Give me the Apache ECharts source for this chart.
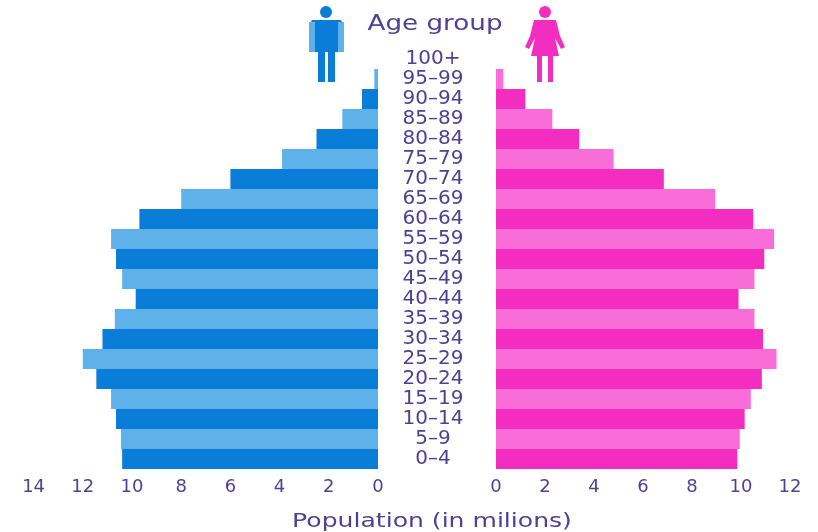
<!DOCTYPE html>
<html>
<head>
<meta charset="utf-8">
<title>Age group pyramid</title>
<style>
  html, body { margin: 0; padding: 0; background: #fff; }
  /* the source picture is a soft, upscaled image */
  #chart { width: 818px; height: 532px; filter: blur(0.6px); }
</style>
<script src="https://cdn.jsdelivr.net/npm/echarts@6/dist/echarts.min.js"></script>
</head>
<body>
<div id="chart"></div>
<script>
const ageGroups = ['0–4', '5–9', '10–14', '15–19', '20–24', '25–29', '30–34', '35–39', '40–44', '45–49',
  '50–54', '55–59', '60–64', '65–69', '70–74', '75–79', '80–84', '85–89', '90–94', '95–99', '100+'];
const maleValues = [10.4, 10.45, 10.65, 10.85, 11.45, 12.0, 11.2, 10.7, 9.85, 10.4,
  10.65, 10.85, 9.7, 8.0, 6.0, 3.9, 2.5, 1.45, 0.65, 0.15, 0];
const femaleValues = [9.85, 9.95, 10.15, 10.4, 10.85, 11.45, 10.9, 10.55, 9.9, 10.55,
  10.95, 11.35, 10.5, 8.95, 6.85, 4.8, 3.4, 2.3, 1.2, 0.3, 0];

const TEXT_COLOR = '#4f3f96';
const FONT = '"DejaVu Sans", sans-serif';
const MALE = ['#0a7dd8', '#5fb1ea'];
const FEMALE = ['#f22dc0', '#f96dd9'];

const chart = echarts.init(document.getElementById('chart'));

const xAxisBase = {
  type: 'value',
  min: 0,
  interval: 2,
  axisLine: { show: false },
  axisTick: { show: false },
  splitLine: { show: false },
  axisLabel: { color: TEXT_COLOR, fontFamily: FONT, fontSize: 18, margin: 9 }
};

const barSeries = (values, colors, idx) => ({
  type: 'bar',
  xAxisIndex: idx,
  yAxisIndex: idx,
  data: values,
  barWidth: '100%',
  silent: true,
  itemStyle: { color: p => colors[p.dataIndex % 2] }
});

chart.setOption({
  animation: false,
  grid: [
    { left: 33.6, width: 344.4, top: 49, height: 420 },
    { left: 496, width: 294, top: 49, height: 420 }
  ],
  xAxis: [
    { ...xAxisBase, gridIndex: 0, max: 14, inverse: true },
    { ...xAxisBase, gridIndex: 1, max: 12 }
  ],
  yAxis: [
    {
      type: 'category',
      gridIndex: 0,
      data: ageGroups,
      position: 'right',
      axisLine: { show: false },
      axisTick: { show: false },
      axisLabel: {
        interval: 0,
        align: 'center',
        margin: 55,
        color: TEXT_COLOR,
        fontFamily: FONT,
        fontSize: 20
      }
    },
    { type: 'category', gridIndex: 1, data: ageGroups, show: false }
  ],
  series: [
    barSeries(maleValues, MALE, 0),
    barSeries(femaleValues, FEMALE, 1)
  ],
  graphic: [
    {
      type: 'text', x: 435, y: 24, scaleX: 1.19,
      style: { text: 'Age group', fill: TEXT_COLOR, font: '22px ' + FONT, textAlign: 'center', textVerticalAlign: 'middle' }
    },
    {
      type: 'text', x: 432, y: 522, scaleX: 1.32,
      style: { text: 'Population (in milions)', fill: TEXT_COLOR, font: '19px ' + FONT, textAlign: 'center', textVerticalAlign: 'middle' }
    },
    // man
    {
      type: 'group', silent: true,
      children: [
        { type: 'circle', shape: { cx: 326, cy: 12, r: 6 }, style: { fill: MALE[0] } },
        { type: 'rect', shape: { x: 311, y: 20, width: 31, height: 5, r: 2 }, style: { fill: MALE[0] } },
        { type: 'rect', shape: { x: 309, y: 22, width: 6, height: 30 }, style: { fill: MALE[1] } },
        { type: 'rect', shape: { x: 338, y: 22, width: 6, height: 30 }, style: { fill: MALE[1] } },
        { type: 'rect', shape: { x: 315, y: 22, width: 23, height: 30 }, style: { fill: MALE[0] } },
        { type: 'rect', shape: { x: 318, y: 50, width: 7, height: 32 }, style: { fill: MALE[0] } },
        { type: 'rect', shape: { x: 328, y: 50, width: 7, height: 32 }, style: { fill: MALE[0] } }
      ]
    },
    // woman
    {
      type: 'group', silent: true,
      children: [
        { type: 'circle', shape: { cx: 545, cy: 12, r: 6 }, style: { fill: FEMALE[0] } },
        { type: 'polygon', shape: { points: [[534, 20], [556, 20], [560, 36], [565, 47], [561, 49], [555, 38], [559, 56], [531, 56], [535, 38], [529, 49], [525, 47], [530, 36]] }, style: { fill: FEMALE[0] } },
        { type: 'rect', shape: { x: 537, y: 55, width: 5, height: 27 }, style: { fill: FEMALE[0] } },
        { type: 'rect', shape: { x: 548, y: 55, width: 5, height: 27 }, style: { fill: FEMALE[0] } }
      ]
    }
  ]
});
</script>
</body>
</html>
